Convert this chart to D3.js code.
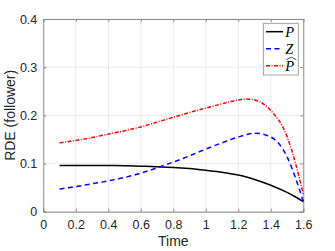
<!DOCTYPE html>
<html>
<head>
<meta charset="utf-8">
<script src="https://cdn.jsdelivr.net/npm/d3@7"></script>
<style>
  body { margin: 0; background: #fff; }
  text { font-family: "Liberation Sans", Arial, sans-serif; }
</style>
</head>
<body>
<div id="chart"></div>
<script>
// time samples and the three curves
var times = [0.1, 0.2, 0.3, 0.4, 0.5, 0.6, 0.7, 0.8, 0.9, 1.0, 1.1, 1.2, 1.25, 1.3, 1.4, 1.5, 1.55, 1.6];
var pVals = [0.096, 0.096, 0.096, 0.0958, 0.0953, 0.0945, 0.0935, 0.092, 0.0895, 0.086, 0.082, 0.076, 0.072, 0.067, 0.055, 0.040, 0.031, 0.021];
var zVals = [0.047, 0.052, 0.058, 0.064, 0.071, 0.080, 0.091, 0.103, 0.116, 0.130, 0.143, 0.155, 0.160, 0.163, 0.155, 0.114, 0.072, 0.021];
var pHatVals = [0.143, 0.148, 0.154, 0.161, 0.168, 0.176, 0.186, 0.196, 0.206, 0.215, 0.224, 0.232, 0.234, 0.232, 0.210, 0.156, 0.103, 0.036];

var xTicks = [0, 0.2, 0.4, 0.6, 0.8, 1, 1.2, 1.4, 1.6];
var yTicks = [0, 0.1, 0.2, 0.3, 0.4];
var seriesNames = ["P", "Z", "P"];

var width = 335, height = 251;
var margin = {left: 43.3, right: 31.7, top: 19, bottom: 39.3};
var w = width - margin.left - margin.right;
var h = height - margin.top - margin.bottom;
var axisColor = "#8c8c8c";

var svg = d3.select("#chart").append("svg")
    .attr("width", width)
    .attr("height", height);
var g = svg.append("g")
    .attr("transform", "translate(" + margin.left + "," + margin.top + ")");

var x = d3.scaleLinear().domain([0, 1.6]).range([0, w]);
var y = d3.scaleLinear().domain([0, 0.4]).range([h, 0]);

// grid
g.selectAll(".gx").data(xTicks).enter().append("line")
    .attr("x1", function(d) { return x(d); }).attr("x2", function(d) { return x(d); })
    .attr("y1", 0).attr("y2", h)
    .attr("stroke", "#e6e6e6").attr("stroke-width", 0.8);
g.selectAll(".gy").data(yTicks).enter().append("line")
    .attr("y1", function(d) { return y(d); }).attr("y2", function(d) { return y(d); })
    .attr("x1", 0).attr("x2", w)
    .attr("stroke", "#e6e6e6").attr("stroke-width", 0.8);

// axes (ticks pointing inward, box on all sides)
var xAxis = d3.axisBottom(x).tickValues(xTicks).tickSize(-3).tickPadding(8)
    .tickFormat(function(d) { return d3.format("")(d); });
var yAxis = d3.axisLeft(y).tickValues(yTicks).tickSize(-3).tickPadding(6)
    .tickFormat(function(d) { return d3.format("")(d); });

function styleAxis(sel) {
    sel.select(".domain").attr("stroke", axisColor);
    sel.selectAll(".tick line").attr("stroke", axisColor);
    sel.selectAll(".tick text").attr("fill", "#262626").style("font-size", "12.5px")
        .style("font-family", "Liberation Sans, Arial, sans-serif");
}

g.append("g").attr("transform", "translate(0," + h + ")").call(xAxis).call(styleAxis);
g.append("g").call(yAxis).call(styleAxis);
g.append("g").call(d3.axisTop(x).tickValues(xTicks).tickSize(-3).tickFormat(""))
    .call(styleAxis);
g.append("g").attr("transform", "translate(" + w + ",0)")
    .call(d3.axisRight(y).tickValues(yTicks).tickSize(-3).tickFormat(""))
    .call(styleAxis);

// curves
var series = [
    {vals: pVals, color: "#000000", dash: null},
    {vals: zVals, color: "#0000ff", dash: "5,3.5"},
    {vals: pHatVals, color: "#ff0000", dash: "4,1.5,1,1.5"}
];

var line = d3.line()
    .x(function(d) { return x(d[0]); })
    .y(function(d) { return y(d[1]); })
    .curve(d3.curveMonotoneX);

series.forEach(function(s) {
    g.append("path")
        .datum(times.map(function(t, i) { return [t, s.vals[i]]; }))
        .attr("d", line)
        .attr("fill", "none")
        .attr("stroke", s.color)
        .attr("stroke-width", 1.5)
        .attr("stroke-dasharray", s.dash);
});

// labels
svg.append("text")
    .attr("x", margin.left + w / 2).attr("y", 246)
    .attr("text-anchor", "middle")
    .style("font-size", "14px").attr("fill", "#262626")
    .text("Time");
svg.append("text")
    .attr("transform", "translate(15," + (margin.top + h / 2) + ") rotate(-90)")
    .attr("text-anchor", "middle")
    .style("font-size", "14px").attr("fill", "#262626")
    .text("RDE (follower)");

// legend
var leg = svg.append("g").attr("transform", "translate(263.3,23.3)");
leg.append("rect")
    .attr("width", 35).attr("height", 51.7)
    .attr("fill", "#fff").attr("stroke", axisColor).attr("stroke-width", 0.8);

series.forEach(function(s, i) {
    var ly = 8.4 + i * 17;
    leg.append("line")
        .attr("x1", 2.7).attr("x2", 19.7)
        .attr("y1", ly).attr("y2", ly)
        .attr("stroke", s.color).attr("stroke-width", 1.5)
        .attr("stroke-dasharray", s.dash);
    leg.append("text")
        .attr("x", 22).attr("y", ly + 5)
        .style("font-family", "Liberation Serif, Times New Roman, serif")
        .style("font-style", "italic")
        .style("font-size", "14.5px")
        .attr("fill", "#000")
        .text(seriesNames[i]);
    if (i === 2) {
        leg.append("path")
            .attr("d", "M" + 23 + "," + (ly - 6) + "L" + 28 + "," + (ly - 8.5) + "L" + 33 + "," + (ly - 6))
            .attr("fill", "none").attr("stroke", "#000").attr("stroke-width", 0.7);
    }
});
</script>
</body>
</html>
